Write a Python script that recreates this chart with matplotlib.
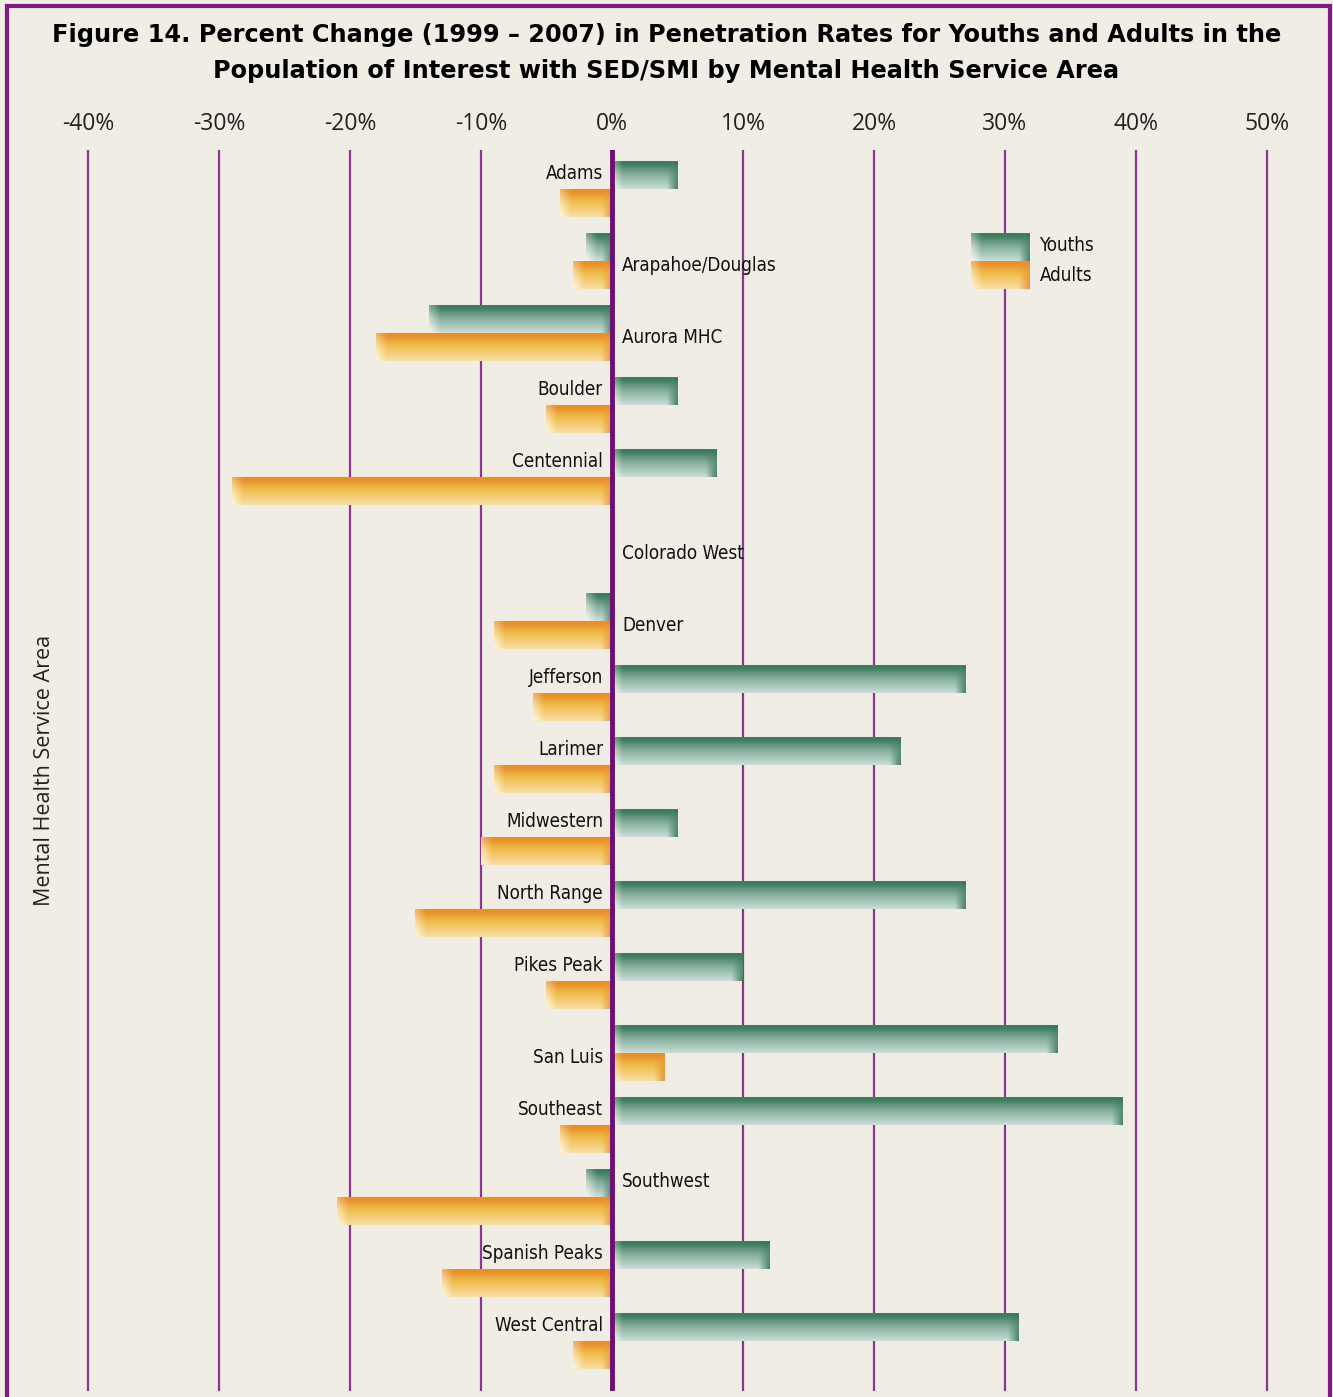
import numpy as np
import matplotlib.pyplot as plt
from matplotlib.patches import Rectangle

# Mental health service areas and percent change 1999-2007
areas = ["Adams", "Arapahoe/Douglas", "Aurora MHC", "Boulder", "Centennial",
         "Colorado West", "Denver", "Jefferson", "Larimer", "Midwestern",
         "North Range", "Pikes Peak", "San Luis", "Southeast", "Southwest",
         "Spanish Peaks", "West Central"]
youths = [5, -2, -14, 5, 8, 0, -2, 27, 22, 5, 27, 10, 34, 39, -2, 12, 31]
adults = [-4, -3, -18, -5, -29, 0, -9, -6, -9, -10, -15, -5, 4, -4, -21, -13, -3]
x_ticks = [-40, -30, -20, -10, 0, 10, 20, 30, 40, 50]

# label placement (style): side of the zero line and vertical anchor
label_side = ["L", "R", "R", "L", "L", "R", "R", "L", "L", "L",
              "L", "L", "L", "L", "R", "L", "L"]
label_mid = [False, True, True, False, False, True, True, False, False, False,
             False, False, True, False, False, False, False]

BG = "#f0ede5"
PURPLE = "#7d1b81"
GRID = "#8c3591"
LABEL_FONT = ["DejaVu Sans"]

W, H = 1333, 1397
fig = plt.figure(figsize=(W / 100, H / 100), dpi=100)
fig.patch.set_facecolor(BG)

# axes in pixel terms: x from 10 to 1328, y from 150 to 1391
ax = fig.add_axes([10 / W, 1 - 1391 / H, 1318 / W, 1241 / H])
ax.set_facecolor(BG)

BAR_H = 28 / 72
GREEN = [np.array([0.24, 0.48, 0.37]), np.array([0.50, 0.67, 0.60]), np.array([0.79, 0.87, 0.84])]
ORANGE = [np.array([0.91, 0.56, 0.17]), np.array([0.94, 0.74, 0.30]), np.array([0.97, 0.87, 0.64])]


def bar_image(cols3, x0, x1):
    n_rows = 40
    width = abs(x1 - x0)
    n_cols = max(8, int(width * 25))
    t = np.linspace(0, 1, n_rows)[:, None, None]
    top, mid, bot = cols3
    s = np.clip((t - 0.08) / 0.92, 0, 1)
    base = np.where(s < 0.4, top + (mid - top) * (s / 0.4),
                    mid + (bot - mid) * ((s - 0.4) / 0.6))
    img = np.repeat(base, n_cols, axis=1)
    xs = np.linspace(0, width, n_cols)[None, :, None]
    edge = min(0.85, width / 2)
    # pale bevel on the left end, dark bevel on the right end
    lw = np.clip(1 - xs / edge, 0, 1) * (0.35 + 0.45 * t)
    rw = np.clip(1 - (width - xs) / edge, 0, 1) * (0.45 + 0.5 * t)
    img = img * (1 - lw) + np.array([1.0, 0.98, 0.93]) * lw
    img = img * (1 - rw) + top * rw
    return np.clip(img, 0, 1)


def draw_bar(x0, x1, y_top, cols3):
    if x0 == x1:
        return
    a, b = min(x0, x1), max(x0, x1)
    ax.imshow(bar_image(cols3, a, b), extent=(a, b, y_top + BAR_H, y_top),
              aspect="auto", interpolation="bilinear", zorder=2)


def label(x, y, s, ha):
    ax.text(x, y, s, ha=ha, va="center", fontsize=13.5, family=LABEL_FONT,
            fontstretch="condensed", color="#111111", zorder=4)


for i, (yv, av) in enumerate(zip(youths, adults)):
    draw_bar(0, yv, i - BAR_H / 2, GREEN)
    draw_bar(0, av, i + BAR_H / 2, ORANGE)
    ly = i + BAR_H / 2 + 0.06 if label_mid[i] else i - 0.02
    if label_side[i] == "L":
        label(-0.69, ly, areas[i], "right")
    else:
        label(0.76, ly, areas[i], "left")

# legend drawn with the same gradient swatches
lx0, lx1 = (971 - 612) / 13.1, (1030 - 612) / 13.1
draw_bar(lx0, lx1, 1 - BAR_H / 2, GREEN)
draw_bar(lx0, lx1, 1 + BAR_H / 2, ORANGE)
label(32.7, 1 - 0.02, "Youths", "left")
label(32.7, 1 + BAR_H + 0.01, "Adults", "left")

ax.axvline(0, color="#6e1072", lw=3.5, zorder=3)

ax.set_xlim(-(612 - 10) / 13.1, (1328 - 612) / 13.1)
ax.set_ylim((1391 - 175) / 72, (150 - 175) / 72)
ax.set_xticks(x_ticks)
ax.set_xticklabels([f"{t}%" for t in x_ticks], fontsize=16.5,
                   family=["Open Sans", "DejaVu Sans"], color="#222222")
ax.xaxis.tick_top()
ax.tick_params(axis="x", length=0, pad=10)
ax.set_yticks([])
ax.grid(axis="x", color=GRID, lw=1.6, zorder=1)
ax.set_axisbelow(True)
for s in ax.spines.values():
    s.set_visible(False)

fig.text(45 / W, 1 - 770 / H, "Mental Health Service Area", rotation=90,
         ha="center", va="center", fontsize=15.5,
         family=["Open Sans", "DejaVu Sans"], color="#222222")

fig.text(0.5, 1 - 53 / H,
         "Figure 14. Percent Change (1999 \u2013 2007) in Penetration Rates for Youths and Adults in the\n"
         "Population of Interest with SED/SMI by Mental Health Service Area",
         ha="center", va="center", fontsize=17.3, fontweight="bold",
         family=["DejaVu Sans"], linespacing=1.6, color="#000000")

# purple frame (bottom edge falls outside the picture)
fig.patches.append(Rectangle((7 / W, -0.05), 1323 / W, 1.05 - 6 / H,
                             transform=fig.transFigure, fill=False,
                             edgecolor=PURPLE, lw=3))

fig.savefig("out.png", dpi=100, facecolor=BG)
